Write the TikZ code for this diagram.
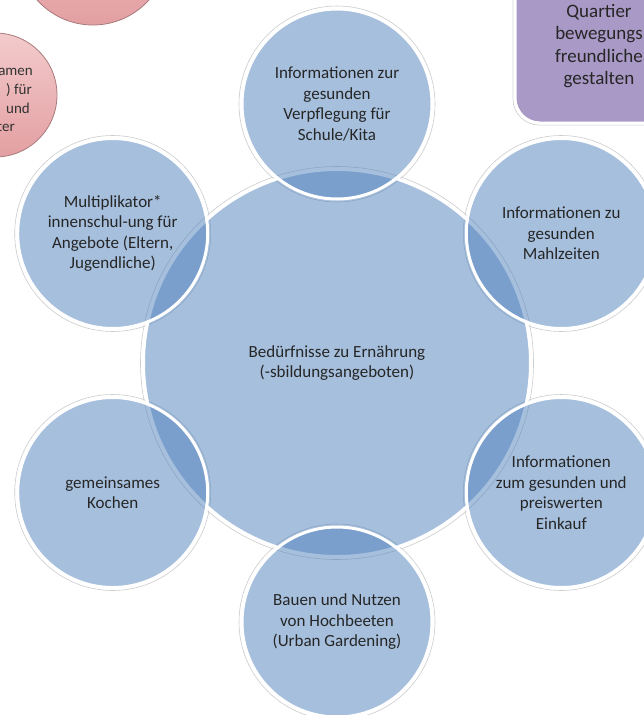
\documentclass[tikz,border=0pt]{standalone}
\usepackage{fontspec}
\setmainfont{Carlito}
\definecolor{ablue}{HTML}{4F81BD}
\definecolor{txt}{HTML}{262626}
\definecolor{lilac}{HTML}{A999C6}
\definecolor{pinkhi}{HTML}{F3CBCC}
\definecolor{pinklo}{HTML}{E39FA2}
\definecolor{pinkedge}{HTML}{A97A7C}
\begin{document}
\begin{tikzpicture}[x=1pt,y=-1pt,
  ring/.style={draw=gray!40, line width=0.6pt},
  bub/.style={circle, minimum size=190pt, inner sep=0pt, fill=ablue, fill opacity=0.5,
    draw=white, draw opacity=1, line width=3pt, text=txt, text opacity=1, align=center,
    font=\fontsize{17}{20.5}\selectfont},
  hub/.style={bub, minimum size=387pt},
  pinkc/.style={circle, inner sep=0pt, top color=pinkhi, bottom color=pinklo, draw=pinkedge, line width=0.8pt},
  pinktxt/.style={anchor=east, inner sep=0pt, text=black!80, font=\fontsize{15}{18}\selectfont},
  boxtxt/.style={text=txt, align=center, font=\fontsize{19}{22.5}\selectfont}
]
\useasboundingbox (0,0) rectangle (644,715);
\fill[white] (0,0) rectangle (644,715);

% background shapes
\node[pinkc, minimum size=150pt] (pinkA) at (93,-50) {};
\node[pinkc, minimum size=124pt] (pinkB) at (-5,95) {};
\node[pinktxt] (pa) at (33,72) {amen};
\node[pinktxt] (pb) at (32,90) {) für};
\node[pinktxt] (pc) at (30,108) {und};
\node[pinktxt] (pd) at (15,127) {ter};

\draw[gray!40, line width=0.6pt, rounded corners=26pt] (513,-40) rectangle (690,125);
\draw[fill=lilac, draw=white, line width=3pt, rounded corners=25pt] (515,-40) rectangle (690,123);
\node[boxtxt] (quart) at (599,46) {Quartier\\bewegungs\\freundliche\\gestalten};

% rings
\foreach \p/\r in {{(337,363)}/196.5, {(337,104)}/98, {(561.3,233.5)}/98, {(561.3,492.5)}/98,
                   {(337,622)}/98, {(112.7,492.5)}/98, {(112.7,233.5)}/98}
  \draw[ring] \p circle (\r);

% hub
\node[hub] (hubc) at (337,363) {Bedürfnisse zu Ernährung\\(-sbildungsangeboten)};

% satellites
\node[bub] (sTop) at (337,104) {Informationen zur\\gesunden\\Verpflegung für\\Schule/Kita};
\node[bub] (sRT) at (561.3,233.5) {Informationen zu\\gesunden\\Mahlzeiten};
\node[bub] (sRB) at (561.3,492.5) {Informationen\\zum gesunden und\\preiswerten\\Einkauf};
\node[bub] (sBot) at (337,622) {Bauen und Nutzen\\von Hochbeeten\\(Urban Gardening)};
\node[bub] (sLB) at (112.7,492.5) {gemeinsames\\Kochen};
\node[bub] (sLT) at (112.7,233.5) {Multiplikator*\\innenschul-ung für\\Angebote (Eltern,\\Jugendliche)};
\end{tikzpicture}
\end{document}
